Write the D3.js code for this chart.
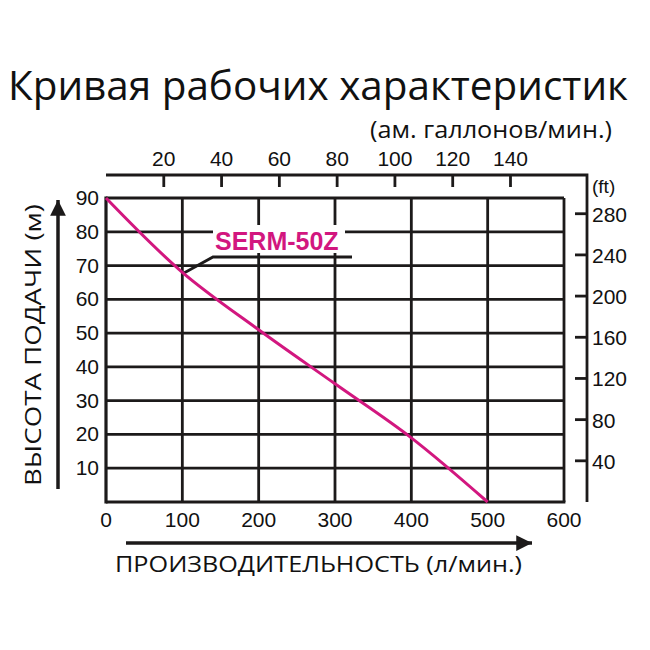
<!DOCTYPE html>
<html><head><meta charset="utf-8">
<script src="https://cdn.jsdelivr.net/npm/d3@7"></script>
<style>body{margin:0;background:#fff}</style>
</head><body>
<script>
const flowLpm = [0, 100, 200, 300, 400, 500];
const headM = [90, 68, 51, 35, 19, 0];
const xTicks = [0, 100, 200, 300, 400, 500, 600];
const yTicks = [10, 20, 30, 40, 50, 60, 70, 80, 90];
const galTicks = [20, 40, 60, 80, 100, 120, 140];
const ftTicks = [40, 80, 120, 160, 200, 240, 280];
const seriesName = "SERM-50Z";

const W = 650, H = 650;
const svg = d3.select("body").append("svg").attr("width", W).attr("height", H);
const x = d3.scaleLinear().domain([0, 600]).range([106, 564]);
const y = d3.scaleLinear().domain([0, 90]).range([502, 198]);
const xg = d3.scaleLinear().domain([0, 600 / 3.785]).range([106, 564]);
const yf = d3.scaleLinear().domain([0, 90 * 3.28084]).range([502, 198]);
const ink = "#1c1a1a", mag = "#d2177f";
const sans = "'Liberation Sans', Arial, sans-serif";
const myriad = "'Open Sans', 'Noto Sans', sans-serif";

// title
svg.append("text").attr("x", 8).attr("y", 100).attr("font-family", myriad)
  .attr("font-size", 41).attr("fill", "#111").attr("textLength", 620).attr("lengthAdjust", "spacingAndGlyphs")
  .text("Кривая рабочих характеристик");
svg.append("text").attr("x", 612).attr("y", 138).attr("text-anchor", "end").attr("font-family", myriad)
  .attr("font-size", 23).attr("fill", "#111").attr("textLength", 242).attr("lengthAdjust", "spacingAndGlyphs")
  .text("(ам. галлонов/мин.)");

// grid
const g = svg.append("g").attr("stroke", ink).attr("stroke-width", 2.8).attr("fill", "none");
xTicks.slice(1).forEach(v => g.append("line").attr("x1", x(v)).attr("x2", x(v)).attr("y1", y(0)).attr("y2", y(90)));
yTicks.forEach(v => g.append("line").attr("x1", x(0)).attr("x2", x(600)).attr("y1", y(v)).attr("y2", y(v)));
g.append("line").attr("x1", x(0)).attr("x2", x(0)).attr("y1", y(0) + 1.5).attr("y2", y(90) - 1.5).attr("stroke-width", 3.2);
g.append("line").attr("x1", x(0)).attr("x2", x(600) + 1.4).attr("y1", y(0)).attr("y2", y(0)).attr("stroke-width", 3.2);

// bottom axis labels
xTicks.forEach(v => svg.append("text").attr("x", x(v)).attr("y", 527).attr("text-anchor", "middle")
  .attr("font-family", sans).attr("font-size", 21).attr("fill", "#111").text(v));
// left labels
yTicks.forEach(v => svg.append("text").attr("x", 99).attr("y", y(v) + 7).attr("text-anchor", "end")
  .attr("font-family", sans).attr("font-size", 21).attr("fill", "#111").text(v));

// top gallons axis
const topY = 175;
svg.append("path").attr("d", `M${x(0)},${topY}H587V${y(0)}`).attr("stroke", ink).attr("stroke-width", 2.8).attr("fill", "none");
galTicks.forEach(v => {
  svg.append("line").attr("x1", xg(v)).attr("x2", xg(v)).attr("y1", topY).attr("y2", 187).attr("stroke", ink).attr("stroke-width", 2.8);
  svg.append("text").attr("x", xg(v)).attr("y", 166).attr("text-anchor", "middle").attr("font-family", sans)
    .attr("font-size", 21).attr("fill", "#111").text(v);
});
// right feet axis
ftTicks.forEach(v => {
  svg.append("line").attr("x1", 575).attr("x2", 587).attr("y1", yf(v)).attr("y2", yf(v)).attr("stroke", ink).attr("stroke-width", 2.8);
  svg.append("text").attr("x", 592).attr("y", yf(v) + 8).attr("font-family", sans)
    .attr("font-size", 21).attr("fill", "#111").text(v);
});
svg.append("text").attr("x", 592).attr("y", 193).attr("font-family", sans).attr("font-size", 19).attr("fill", "#111").text("(ft)");

// label box & leader
svg.append("rect").attr("x", 213).attr("y", 225).attr("width", 132).attr("height", 28).attr("fill", "#fff");
svg.append("path").attr("d", "M184,273L213,257H352").attr("stroke", ink).attr("stroke-width", 2.8).attr("fill", "none");
svg.append("text").attr("x", 215).attr("y", 250).attr("font-family", sans).attr("font-weight", "bold")
  .attr("font-size", 25).attr("fill", mag).text(seriesName);

// curve
const pts = flowLpm.map((f, i) => [f, headM[i]]);
svg.append("path").datum(pts).attr("d", d3.line().x(d => x(d[0])).y(d => y(d[1])).curve(d3.curveCatmullRom.alpha(0.5)))
  .attr("stroke", mag).attr("stroke-width", 3).attr("fill", "none");

// arrows
const defs = svg.append("defs");
defs.append("marker").attr("id", "ah").attr("viewBox", "0 0 10 10").attr("refX", 10).attr("refY", 5)
  .attr("markerWidth", 6).attr("markerHeight", 4.5).attr("markerUnits", "strokeWidth").attr("orient", "auto")
  .append("path").attr("d", "M0,0L10,5L0,10Z").attr("fill", ink);
svg.append("line").attr("x1", 58).attr("x2", 58).attr("y1", 489).attr("y2", 200).attr("stroke", ink).attr("stroke-width", 3.5).attr("marker-end", "url(#ah)");
svg.append("line").attr("x1", 126).attr("x2", 532).attr("y1", 543).attr("y2", 543).attr("stroke", ink).attr("stroke-width", 3.5).attr("marker-end", "url(#ah)");

// axis titles
svg.append("text").attr("transform", "translate(41,345) rotate(-90)").attr("text-anchor", "middle")
  .attr("font-family", myriad).attr("font-size", 21).attr("fill", "#111").attr("textLength", 282).attr("lengthAdjust", "spacingAndGlyphs")
  .text("ВЫСОТА ПОДАЧИ (м)");
svg.append("text").attr("x", 115).attr("y", 572).attr("font-family", myriad).attr("font-size", 21).attr("fill", "#111")
  .attr("textLength", 407).attr("lengthAdjust", "spacingAndGlyphs")
  .text("ПРОИЗВОДИТЕЛЬНОСТЬ (л/мин.)");
</script>
</body></html>
